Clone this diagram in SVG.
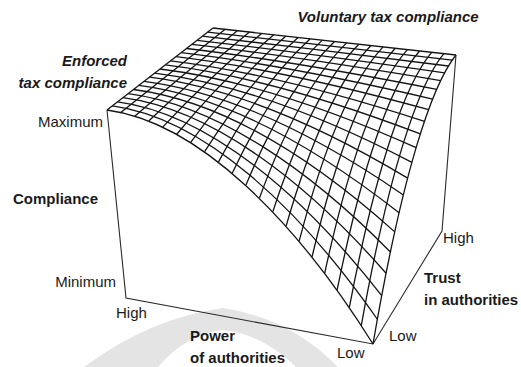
<svg xmlns="http://www.w3.org/2000/svg" width="521" height="367" viewBox="0 0 521 367">
<style>
.lbl{font-family:"Liberation Sans",Arial,sans-serif;font-size:15px;fill:#1a1a1a}
.b{font-weight:bold}
.bi{font-weight:bold;font-style:italic}
.grid path{fill:none;stroke:#141414;stroke-width:1.3}
.edge{fill:none;stroke:#2a2a2a;stroke-width:1.1}
</style>
<rect width="521" height="367" fill="#ffffff"/>
<g id="watermark">
<path d="M84,367 Q150,318 223,308 Q290,318 338,367 L296,367 Q262,334 223,330 Q186,334 158,367 Z" fill="#e4e4e4"/>
</g>
<g id="connectors">
<path class="edge" d="M107,110 L126,298 L373,344 L442,231 L456,55"/>
</g>
<g id="surface" class="grid">
<path d="M107,110 C198.67,122.33 295.62,220.31 373,344"/>
<path d="M112.3,105.9 C203.43,118.07 299.18,207.13 377.35,319.25"/>
<path d="M117.6,101.8 C208.2,113.8 302.79,194.47 381.71,295.67"/>
<path d="M122.9,97.7 C212.97,109.53 306.46,182.3 386.06,273.26"/>
<path d="M128.2,93.6 C217.73,105.27 310.19,170.63 390.4,251.99"/>
<path d="M133.5,89.5 C222.5,101 313.97,159.44 394.73,231.86"/>
<path d="M138.8,85.4 C227.27,96.73 317.8,148.74 399.06,212.84"/>
<path d="M144.1,81.3 C232.03,92.47 321.67,138.52 403.36,194.93"/>
<path d="M149.4,77.2 C236.8,88.2 325.59,128.77 407.64,178.1"/>
<path d="M154.7,73.1 C241.57,83.93 329.54,119.48 411.9,162.33"/>
<path d="M160,69 C246.33,79.67 333.54,110.65 416.13,147.63"/>
<path d="M165.3,64.9 C251.1,75.4 337.57,102.26 420.32,133.95"/>
<path d="M170.6,60.8 C255.87,71.13 341.64,94.33 424.48,121.3"/>
<path d="M175.9,56.7 C260.63,66.87 345.73,86.83 428.6,109.66"/>
<path d="M181.2,52.6 C265.4,62.6 349.85,79.75 432.68,99.01"/>
<path d="M186.5,48.5 C270.17,58.33 354,73.11 436.7,89.33"/>
<path d="M191.8,44.4 C274.93,54.07 358.16,66.88 440.68,80.61"/>
<path d="M197.1,40.3 C279.7,49.8 362.36,61.06 444.6,72.83"/>
<path d="M202.4,36.2 C284.47,45.53 366.55,55.65 448.47,65.98"/>
<path d="M207.7,32.1 C289.23,41.27 370.78,50.63 452.27,60.04"/>
<path d="M213,28 L456,55"/>
<path d="M107,110 L213,28"/>
<path d="M120.81,112.48 C155.56,84.54 190.35,56.85 225.15,29.35"/>
<path d="M134.71,116.18 C168.8,86.78 203.03,58.37 237.3,30.7"/>
<path d="M148.68,121.08 C182.05,89.37 215.72,59.88 249.45,32.05"/>
<path d="M162.69,127.12 C195.29,92.31 228.4,61.4 261.6,33.4"/>
<path d="M176.7,134.26 C208.52,95.57 241.08,62.92 273.75,34.75"/>
<path d="M190.69,142.47 C221.74,99.16 253.77,64.43 285.9,36.1"/>
<path d="M204.63,151.69 C234.93,103.04 266.45,65.95 298.05,37.45"/>
<path d="M218.51,161.89 C248.09,107.22 279.13,67.47 310.2,38.8"/>
<path d="M232.3,173.03 C261.22,111.67 291.82,68.98 322.35,40.15"/>
<path d="M245.97,185.05 C274.3,116.39 304.5,70.5 334.5,41.5"/>
<path d="M259.51,197.91 C287.34,121.36 317.18,72.02 346.65,42.85"/>
<path d="M272.9,211.57 C300.33,126.56 329.87,73.53 358.8,44.2"/>
<path d="M286.13,225.99 C313.26,131.99 342.55,75.05 370.95,45.55"/>
<path d="M299.18,241.1 C326.14,137.62 355.23,76.57 383.1,46.9"/>
<path d="M312.03,256.88 C338.95,143.45 367.92,78.08 395.25,48.25"/>
<path d="M324.67,273.27 C351.7,149.46 380.6,79.6 407.4,49.6"/>
<path d="M337.1,290.23 C364.38,155.63 393.28,81.12 419.55,50.95"/>
<path d="M349.3,307.7 C376.99,161.95 405.97,82.63 431.7,52.3"/>
<path d="M361.27,325.64 C389.53,168.42 418.65,84.15 443.85,53.65"/>
<path d="M373,344 C402,175 431.33,85.67 456,55"/>
</g>
<g id="labels">
<text class="lbl bi" x="388" y="22" text-anchor="middle">Voluntary tax compliance</text>
<text class="lbl bi" x="127" y="66" text-anchor="end">Enforced</text>
<text class="lbl bi" x="127" y="88" text-anchor="end">tax compliance</text>
<text class="lbl" x="103" y="127" text-anchor="end">Maximum</text>
<text class="lbl b" x="13" y="204">Compliance</text>
<text class="lbl" x="116" y="287" text-anchor="end">Minimum</text>
<text class="lbl" x="116" y="318">High</text>
<text class="lbl b" x="190" y="341">Power</text>
<text class="lbl b" x="190" y="363">of authorities</text>
<text class="lbl" x="337" y="358">Low</text>
<text class="lbl" x="389" y="341">Low</text>
<text class="lbl" x="443" y="243">High</text>
<text class="lbl b" x="424" y="283">Trust</text>
<text class="lbl b" x="424" y="305">in authorities</text>
</g>
</svg>
